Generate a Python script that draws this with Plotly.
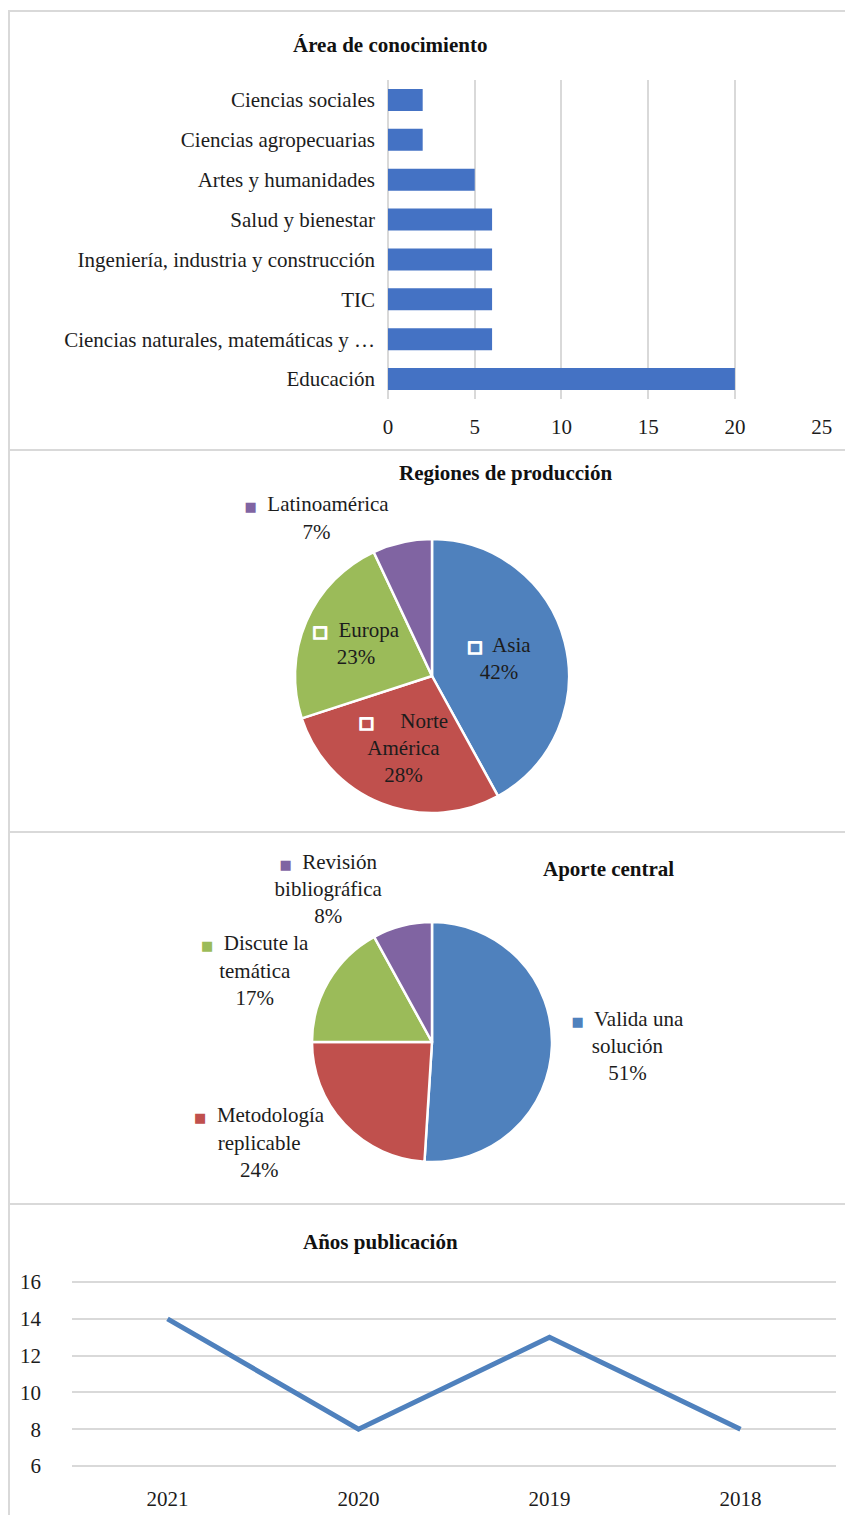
import plotly.graph_objects as go

# ---------------- data ----------------
areas = ["Educación", "Ciencias naturales, matemáticas y …", "TIC",
         "Ingeniería, industria y construcción", "Salud y bienestar",
         "Artes y humanidades", "Ciencias agropecuarias", "Ciencias sociales"]
area_counts = [20, 6, 6, 6, 6, 5, 2, 2]
area_ticks = [0, 5, 10, 15, 20, 25]

regions = ["Asia", "Norte América", "Europa", "Latinoamérica"]
region_pct = [42, 28, 23, 7]

aportes = ["Valida una solución", "Metodología replicable",
           "Discute la temática", "Revisión bibliográfica"]
aporte_pct = [51, 24, 17, 8]

years = ["2021", "2020", "2019", "2018"]
year_counts = [14, 8, 13, 8]
year_ticks = [6, 8, 10, 12, 14, 16]

# ---------------- styling ----------------
W, H = 845, 1515
FONT = "Liberation Serif"
FS = 21
TXT = "#1c1c1c"
GRID = "#D9D9D9"
BAR = "#4472C4"
PIE_COLORS = ["#4F81BD", "#C0504D", "#9BBB59", "#8064A2"]
LINE = "#4F81BD"


def px(x):
    return x / W


def py(y):
    return 1 - y / H


fig = go.Figure()

# ---- Panel 1 : bar chart ----
fig.add_trace(go.Bar(
    x=area_counts, y=areas, orientation="h",
    marker=dict(color=BAR, line=dict(width=0)),
    xaxis="x", yaxis="y", showlegend=False,
))

# ---- Panel 2 : regions pie ----
reg_disp = {"Asia": "Asia", "Norte América": "   Norte<br>América",
            "Europa": "Europa", "Latinoamérica": "Latinoamérica"}
key_in = ("<span style='color:white;stroke:white;stroke-width:1.8px;"
          "font-family:DejaVu Sans;font-size:16px'>□</span>  ")
reg_text = []
reg_pos = []
for i, r in enumerate(regions):
    if r == "Latinoamérica":
        reg_text.append(f"<span style='color:{PIE_COLORS[i]};font-family:DejaVu Sans;font-size:13px'>■</span>  {reg_disp[r]}")
        reg_pos.append("outside")
    else:
        reg_text.append(key_in + reg_disp[r])
        reg_pos.append("inside")

fig.add_trace(go.Pie(
    labels=regions, values=region_pct, text=reg_text,
    texttemplate="%{text}<br>%{percent:.0%}",
    textposition=reg_pos, insidetextorientation="horizontal",
    sort=False, direction="clockwise", rotation=0,
    marker=dict(colors=PIE_COLORS, line=dict(color="white", width=2.5)),
    textfont=dict(family=FONT, size=FS, color=TXT),
    domain=dict(x=[px(295), px(569)], y=[py(813), py(539)]),
    showlegend=False, hoverinfo="label+percent",
))

# ---- Panel 3 : aporte pie ----
ap_disp = ["Valida una<br>solución", "Metodología<br>replicable",
           "Discute la<br>temática", "Revisión<br>bibliográfica"]
ap_text = [f"<span style='color:{PIE_COLORS[i]};font-family:DejaVu Sans;font-size:13px'>■</span>  {d}"
           for i, d in enumerate(ap_disp)]
fig.add_trace(go.Pie(
    labels=aportes, values=aporte_pct, text=ap_text,
    texttemplate="%{text}<br>%{percent:.0%}",
    textposition="outside",
    sort=False, direction="clockwise", rotation=0,
    marker=dict(colors=PIE_COLORS, line=dict(color="white", width=2.5)),
    textfont=dict(family=FONT, size=FS, color=TXT),
    domain=dict(x=[px(312), px(552)], y=[py(1162), py(922)]),
    showlegend=False, hoverinfo="label+percent",
))

# ---- Panel 4 : line chart ----
fig.add_trace(go.Scatter(
    x=years, y=year_counts, mode="lines",
    line=dict(color=LINE, width=5),
    xaxis="x2", yaxis="y2", showlegend=False,
))

tickfont = dict(family=FONT, size=FS, color=TXT)

# y2: 16 -> 1282 px, 6 -> 1466 px (18.4 px per unit), padded by 0.3 unit
Y2_LO, Y2_HI = 5.7, 16.3
u = (1466 - 1282) / 10.0

fig.update_layout(
    width=W, height=H,
    margin=dict(l=0, r=0, t=0, b=0, autoexpand=False),
    paper_bgcolor="white", plot_bgcolor="rgba(0,0,0,0)",
    font=dict(family=FONT, size=FS, color=TXT),
    bargap=0.45,
    xaxis=dict(domain=[px(388), px(822)], anchor="y", range=[0, 25.02],
               tickvals=area_ticks, showgrid=True, gridcolor=GRID, gridwidth=2,
               zeroline=True, zerolinecolor=GRID, zerolinewidth=2,
               showline=False, ticks="", tickfont=tickfont, automargin=False,
               ticklabelstandoff=13, fixedrange=True),
    yaxis=dict(domain=[py(399), py(80)], anchor="x", type="category",
               categoryorder="array", categoryarray=areas, automargin=False,
               showgrid=False, showline=False, ticks="", tickfont=tickfont,
               ticklabelstandoff=12, fixedrange=True),
    xaxis2=dict(domain=[px(72), px(836)], anchor="y2", type="category",
                range=[-0.5, 3.5], showgrid=False, zeroline=False, automargin=False,
                showline=False, ticks="", tickfont=tickfont,
                ticklabelstandoff=12, fixedrange=True),
    yaxis2=dict(domain=[py(1466 + (6 - Y2_LO) * u), py(1282 - (Y2_HI - 16) * u)],
                anchor="x2", range=[Y2_LO, Y2_HI],
                tickvals=year_ticks, showgrid=True, gridcolor=GRID, gridwidth=2,
                zeroline=False, showline=False, ticks="", tickfont=tickfont,
                automargin=False, ticklabelstandoff=30, fixedrange=True),
)

# titles
titles = [("Área de conocimiento", 390, 45),
          ("Regiones de producción", 505, 473),
          ("Aporte central", 608, 869),
          ("Años publicación", 380, 1242)]
for t, x, y in titles:
    fig.add_annotation(text=f"<b>{t}</b>", x=px(x), y=py(y), xref="paper",
                       yref="paper", showarrow=False, xanchor="center",
                       yanchor="middle", font=dict(family=FONT, size=FS, color="#111111"))

# panel borders
for y in [11, 450, 832, 1204]:
    fig.add_shape(type="line", xref="paper", yref="paper",
                  x0=px(8), x1=1, y0=py(y), y1=py(y),
                  line=dict(color=GRID, width=2))
fig.add_shape(type="line", xref="paper", yref="paper",
              x0=px(9), x1=px(9), y0=py(11), y1=0,
              line=dict(color=GRID, width=2))

fig.write_html("out.html")
